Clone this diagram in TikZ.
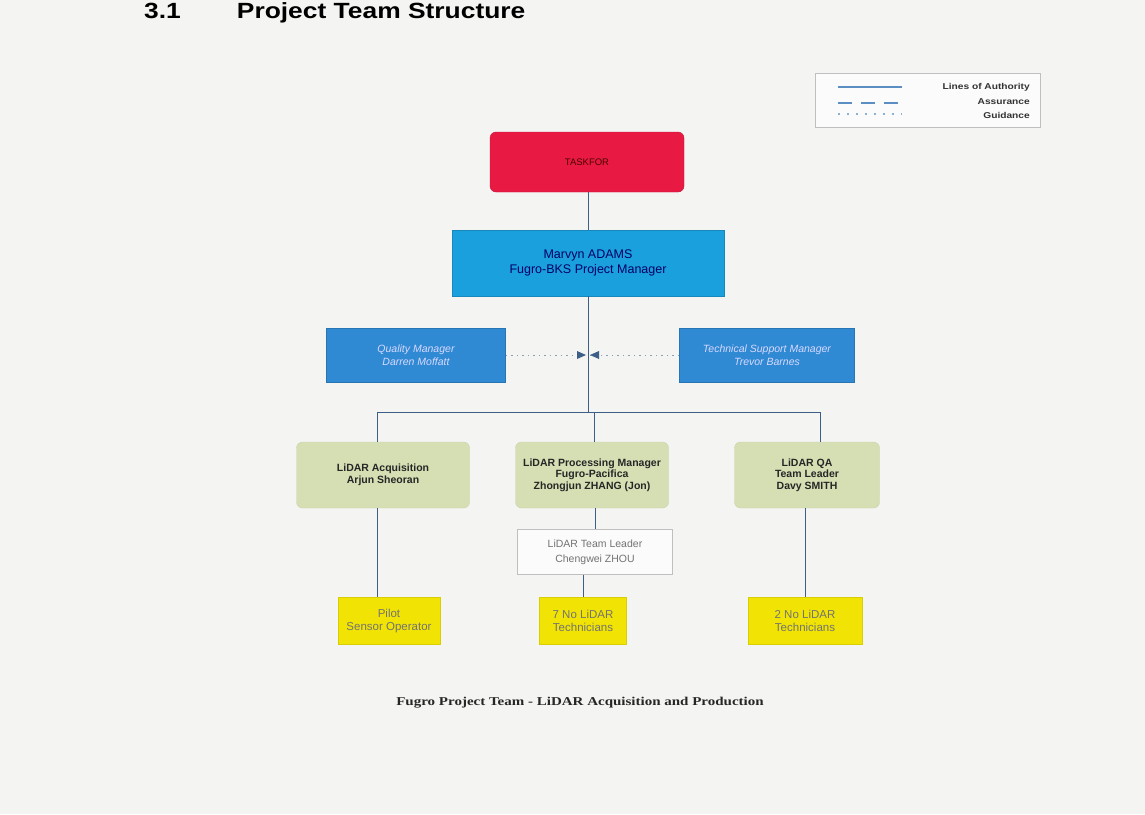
\documentclass[tikz,border=0pt]{standalone}
\usepackage{fontspec}
\setmainfont{Liberation Serif}
\newfontfamily\boxfont{Liberation Sans}
\newfontfamily\widesans[FakeStretch=1.2]{Liberation Sans}
\newfontfamily\wideserif[FakeStretch=1.25]{Liberation Serif}
\usetikzlibrary{arrows.meta,positioning}
\definecolor{bg}{HTML}{F4F4F3}
\definecolor{redbox}{HTML}{E81A43}
\definecolor{pmblue}{HTML}{1AA0DC}
\definecolor{midblue}{HTML}{2F8AD3}
\definecolor{greenbox}{HTML}{D5DFB3}
\definecolor{yellowbox}{HTML}{F1E404}
\definecolor{conn}{HTML}{3D5E86}
\definecolor{legline}{HTML}{5B8EC2}
\tikzset{
  every node/.style={font=\boxfont, align=center, inner sep=0pt},
  redstyle/.style={draw=redbox!85!black, fill=redbox, rounded corners=6pt, text=red!30!black, font=\boxfont\fontsize{9.5}{11}\selectfont},
  pmstyle/.style={draw=pmblue!85!black, fill=pmblue, text=blue!40!black, font=\boxfont\fontsize{12.5}{15}\selectfont},
  sidestyle/.style={draw=midblue!85!black, fill=midblue, text=white!85!blue, font=\boxfont\itshape\fontsize{10.5}{13}\selectfont},
  greenstyle/.style={draw=greenbox!95!black, fill=greenbox, rounded corners=6pt, text=black!85, font=\boxfont\bfseries\fontsize{10.5}{11.5}\selectfont},
  teamstyle/.style={draw=black!25, fill=white!97!gray, text=black!55, font=\boxfont\fontsize{10.5}{15}\selectfont},
  yellowstyle/.style={draw=yellowbox!90!black, fill=yellowbox, text=black!55, font=\boxfont\fontsize{11.5}{13.5}\selectfont},
  legtext/.style={anchor=east, font=\widesans\bfseries\fontsize{8.5}{10}\selectfont, text=black!80},
  conline/.style={draw=conn, line width=1pt},
  guideline/.style={draw=conn!60, line width=0.9pt, dash pattern=on 1.5pt off 4pt},
}
\begin{document}
\begin{tikzpicture}[x=1pt,y=-1pt]
\clip (0,0) rectangle (1145,814);
\fill[bg] (0,0) rectangle (1145,814);

% title
\node[anchor=base west, font=\widesans\bfseries\fontsize{22}{24}\selectfont] (title) at (144,18) {3.1\hspace{56pt}Project Team Structure};

% legend
\node[draw=black!25, fill=white!97!gray, minimum width=225pt, minimum height=54pt, anchor=north west] (legend) at (815,73) {};
\coordinate (l1a) at (838,87); \coordinate (l1b) at (902,87);
\coordinate (l2a) at (838,103); \coordinate (l2b) at (902,103);
\coordinate (l3a) at (838,114); \coordinate (l3b) at (902,114);
\draw[legline, line width=1.3pt] (l1a) -- (l1b);
\draw[legline, line width=1.2pt, dash pattern=on 14pt off 9pt] (l2a) -- (l2b);
\draw[legline!70, line width=1.1pt, dash pattern=on 2pt off 7pt] (l3a) -- (l3b);
\node[legtext] (lt1) at (1030,87) {Lines of Authority};
\node[legtext] (lt2) at (1030,102) {Assurance};
\node[legtext] (lt3) at (1030,115) {Guidance};

% boxes
\node[redstyle, minimum width=194pt, minimum height=60pt] (client) at (587,162) {TASKFOR};
\node[pmstyle, minimum width=272pt, minimum height=66pt] (pm) at (588,263) {Marvyn ADAMS\\Fugro-BKS Project Manager};
\node[sidestyle, minimum width=179pt, minimum height=54pt] (qm) at (416,355) {Quality Manager\\Darren Moffatt};
\node[sidestyle, minimum width=175pt, minimum height=54pt] (tsm) at (767,355) {Technical Support Manager\\Trevor Barnes};

\node[greenstyle, minimum width=173pt, minimum height=66pt] (acq) at (383,475) {LiDAR Acquisition\\Arjun Sheoran};
\node[greenstyle, minimum width=153pt, minimum height=66pt] (proc) at (592,475) {LiDAR Processing Manager\\Fugro-Pacifica\\Zhongjun ZHANG (Jon)};
\node[greenstyle, minimum width=145pt, minimum height=66pt] (qa) at (807,475) {LiDAR QA\\Team Leader\\Davy SMITH};

\node[teamstyle, minimum width=155pt, minimum height=45pt] (tl) at (595,552) {LiDAR Team Leader\\Chengwei ZHOU};

\node[yellowstyle, minimum width=102pt, minimum height=47pt] (pilot) at (389,621) {Pilot\\Sensor Operator};
\node[yellowstyle, minimum width=87pt, minimum height=47pt] (tech7) at (583,621) {7 No LiDAR\\Technicians};
\node[yellowstyle, minimum width=114pt, minimum height=47pt] (tech2) at (805,621) {2 No LiDAR\\Technicians};

% connectors
\coordinate (mid) at (588,355);
\coordinate (busL) at (377,412);
\coordinate (busC) at (588,412);
\coordinate (busM) at (594,412);
\coordinate (busR) at (820,412);

\draw[conline] (client.south -| pm.north) -- (pm.north);
\draw[conline] (pm.south) -- (busC);
\draw[conline] (busL) -- (busR);
\draw[conline] (busL) -- (busL |- acq.north);
\draw[conline] (busM) -- (busM |- proc.north);
\draw[conline] (busR) -- (busR |- qa.north);

\draw[guideline] (qm.east) -- (mid);
\draw[guideline] (tsm.west) -- (mid);
\fill[conn] (mid) ++(-2,0) -- ++(-9,-4) -- ++(0,8) -- cycle;
\fill[conn] (mid) ++(2,0) -- ++(9,-4) -- ++(0,8) -- cycle;

\draw[conline] (acq.south -| busL) -- (pilot.north -| busL);
\draw[conline] (proc.south -| tl.north) -- (tl.north);
\draw[conline] (tl.south -| tech7.north) -- (tech7.north);
\draw[conline] (qa.south -| tech2.north) -- (tech2.north);

% caption
\node[font=\wideserif\bfseries\fontsize{12}{14}\selectfont, text=black!85] (caption) at (580,703) {Fugro Project Team - LiDAR Acquisition and Production};
\end{tikzpicture}
\end{document}
